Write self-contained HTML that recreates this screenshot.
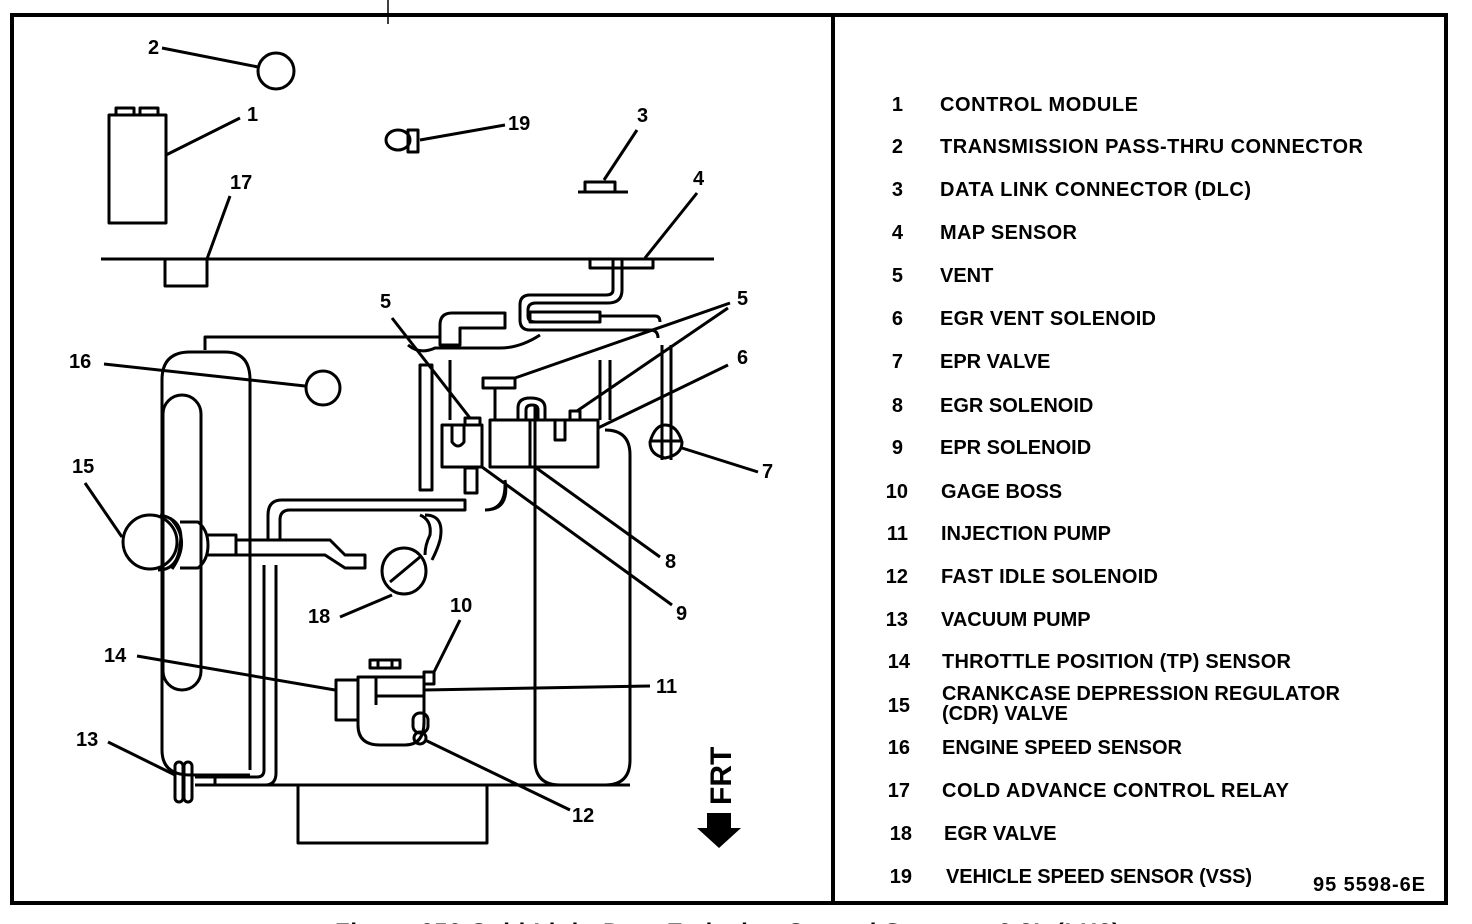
<!DOCTYPE html>
<html><head><meta charset="utf-8"><style>
html,body{margin:0;padding:0;background:#fff;overflow:hidden;}
svg{display:block;}
.t{font-family:"Liberation Sans",sans-serif;font-weight:bold;font-size:20px;fill:#000;}
.n{font-family:"Liberation Sans",sans-serif;font-weight:bold;font-size:20px;fill:#000;}
</style></head><body>
<svg width="1472" height="924" viewBox="0 0 1472 924" xmlns="http://www.w3.org/2000/svg">
<g fill="none" stroke="#000" stroke-width="3">
<rect x="12" y="15" width="1434" height="888" stroke-width="4"/>
<line x1="833" y1="15" x2="833" y2="903" stroke-width="4"/>
<line x1="388" y1="0" x2="388" y2="24" stroke-width="1.5"/>
</g>
<g fill="none" stroke="#000" stroke-width="3" stroke-linejoin="round">
<circle cx="276" cy="71" r="18"/>
<line x1="162" y1="48" x2="258" y2="67"/>
<rect x="109" y="115" width="57" height="108"/>
<rect x="116" y="108" width="18" height="7"/>
<rect x="140" y="108" width="18" height="7"/>
<line x1="166" y1="155" x2="240" y2="118"/>
<ellipse cx="398" cy="140" rx="12" ry="10"/>
<rect x="408" y="130" width="10" height="22"/>
<line x1="420" y1="140" x2="505" y2="125"/>
<rect x="585" y="182" width="30" height="10"/>
<line x1="578" y1="192" x2="628" y2="192"/>
<line x1="604" y1="180" x2="637" y2="130"/>
<line x1="101" y1="259" x2="714" y2="259"/>
<rect x="165" y="259" width="42" height="27"/>
<line x1="207" y1="259" x2="230" y2="196"/>
<rect x="590" y="259" width="63" height="9"/>
<line x1="645" y1="258" x2="697" y2="193"/>
<path d="M613 259 V290 Q613 295 606 295 H530 Q520 295 520 305 V320 Q520 330 530 330 H650 Q658 330 658 338"/>
<path d="M622 259 V290 Q622 303 608 303 H536 Q528 303 528 310 V316 Q528 322 536 322"/>
<rect x="530" y="312" width="70" height="10"/>
<path d="M600 316 H655 Q660 316 660 322"/>
<path d="M205 350 V337 H440"/>
<path d="M162 380 Q162 352 190 352 H225 Q250 352 250 380 V770"/>
<path d="M162 380 V750 Q162 775 190 775 H250"/>
<rect x="163" y="395" width="38" height="295" rx="19"/>
<path d="M215 775 V785 H630"/>
<path d="M535 450 V760 Q535 785 560 785 H605 Q630 785 630 760 V455 Q630 430 605 430"/>
<rect x="298" y="785" width="189" height="58"/>
<path d="M440 345 V325 Q440 313 452 313 H505 V328 H460 V345 Z"/>
<path d="M408 345 Q420 355 435 348 H500 Q520 348 540 335"/>
<path d="M420 365 V490 H432 V365 Z"/>
<path d="M450 360 V420"/>
<rect x="442" y="425" width="40" height="42"/>
<path d="M452 425 V442 Q458 450 464 442 V425"/>
<rect x="465" y="418" width="15" height="7"/>
<rect x="490" y="420" width="40" height="47"/>
<rect x="530" y="420" width="68" height="47"/>
<path d="M555 420 V440 H565 V420"/>
<rect x="570" y="411" width="10" height="9"/>
<rect x="483" y="378" width="32" height="10"/>
<line x1="495" y1="388" x2="495" y2="420"/>
<path d="M518 420 V408 Q518 398 530 398 Q545 398 545 408 V420"/>
<path d="M526 420 V410 Q526 405 532 405 Q538 405 538 410 V420"/>
<line x1="535" y1="405" x2="535" y2="467"/>
<line x1="600" y1="360" x2="600" y2="420"/>
<line x1="610" y1="360" x2="610" y2="420"/>
<rect x="465" y="468" width="12" height="25"/>
<path d="M465 500 H282 Q268 500 268 515 V540 H280 V520 Q280 510 290 510 H465 Z"/>
<path d="M485 510 Q505 510 505 485 M505 480 Q510 510 485 510"/>
<path d="M420 515 Q432 520 430 535 Q425 545 425 555 M425 515 Q445 515 440 540 Q438 548 432 560"/>
<ellipse cx="404" cy="571" rx="22" ry="23"/>
<line x1="390" y1="582" x2="420" y2="557"/>
<line x1="340" y1="617" x2="392" y2="595"/>
<circle cx="150" cy="542" r="27"/>
<path d="M160 515 Q185 520 180 545 Q178 570 158 570"/>
<path d="M170 518 Q192 540 172 569"/>
<path d="M180 522 H198 Q208 530 208 545 Q208 560 198 568 H180"/>
<path d="M208 535 H236 V555 H208"/>
<path d="M236 540 H330 L345 555 H365 V568 H345 L325 555 H236"/>
<path d="M85 483 L122 537"/>
<path d="M264 565 V770 Q264 777 257 777 H195 M276 565 V773 Q276 785 265 785 H195"/>
<rect x="175" y="762" width="8" height="40" rx="4"/>
<rect x="184" y="762" width="8" height="40" rx="4"/>
<line x1="108" y1="742" x2="175" y2="775"/>
<circle cx="323" cy="388" r="17"/>
<line x1="104" y1="364" x2="305" y2="386"/>
<rect x="336" y="680" width="22" height="40"/>
<path d="M358 677 H424 V722 Q424 745 405 745 H380 Q358 745 358 725 Z"/>
<line x1="376" y1="677" x2="376" y2="705"/>
<line x1="376" y1="696" x2="424" y2="696"/>
<rect x="370" y="660" width="30" height="8"/>
<path d="M378 660 V668 M392 660 V668"/>
<rect x="424" y="672" width="10" height="12"/>
<rect x="413" y="713" width="15" height="20" rx="7"/>
<circle cx="420" cy="738" r="6"/>
<line x1="137" y1="656" x2="335" y2="690"/>
<line x1="434" y1="672" x2="460" y2="620"/>
<line x1="424" y1="690" x2="650" y2="686"/>
<line x1="425" y1="740" x2="570" y2="810"/>
<path d="M650 442 Q655 425 665 425 Q677 425 682 442 Q682 455 665 458 Q650 455 650 442 Z"/>
<line x1="651" y1="441" x2="681" y2="441"/>
<line x1="662" y1="345" x2="662" y2="460"/>
<line x1="671" y1="345" x2="671" y2="460"/>
<line x1="682" y1="448" x2="758" y2="472"/>
<line x1="392" y1="318" x2="470" y2="418"/>
<line x1="515" y1="378" x2="730" y2="303"/>
<line x1="577" y1="411" x2="728" y2="308"/>
<line x1="598" y1="428" x2="728" y2="365"/>
<line x1="535" y1="467" x2="660" y2="557"/>
<line x1="482" y1="467" x2="672" y2="605"/>
</g>
<text x="0" y="0" transform="translate(731,805) rotate(-90)" style="font-family:'Liberation Sans',sans-serif;font-weight:bold;font-size:30px">FRT</text>
<polygon points="707,813 731,813 731,828 741,828 719,848 697,828 707,828" fill="#000"/>
<g class="n">
<text x="148" y="54">2</text><text x="247" y="121">1</text><text x="508" y="130">19</text>
<text x="637" y="122">3</text><text x="230" y="189">17</text><text x="693" y="185">4</text>
<text x="380" y="308">5</text><text x="737" y="305">5</text><text x="737" y="364">6</text>
<text x="69" y="368">16</text><text x="72" y="473">15</text><text x="762" y="478">7</text>
<text x="665" y="568">8</text><text x="676" y="620">9</text><text x="308" y="623">18</text>
<text x="450" y="612">10</text><text x="104" y="662">14</text><text x="656" y="693">11</text>
<text x="76" y="746">13</text><text x="572" y="822">12</text>
</g>
<g class="t">
<text x="903" y="111" text-anchor="end">1</text><text x="940" y="111" textLength="198">CONTROL MODULE</text>
<text x="903" y="153" text-anchor="end">2</text><text x="940" y="153" textLength="423">TRANSMISSION PASS-THRU CONNECTOR</text>
<text x="903" y="196" text-anchor="end">3</text><text x="940" y="196" textLength="311">DATA LINK CONNECTOR (DLC)</text>
<text x="903" y="239" text-anchor="end">4</text><text x="940" y="239" textLength="137">MAP SENSOR</text>
<text x="903" y="282" text-anchor="end">5</text><text x="940" y="282">VENT</text>
<text x="903" y="325" text-anchor="end">6</text><text x="940" y="325" textLength="216">EGR VENT SOLENOID</text>
<text x="903" y="368" text-anchor="end">7</text><text x="940" y="368">EPR VALVE</text>
<text x="903" y="412" text-anchor="end">8</text><text x="940" y="412">EGR SOLENOID</text>
<text x="903" y="454" text-anchor="end">9</text><text x="940" y="454">EPR SOLENOID</text>
<text x="908" y="498" text-anchor="end">10</text><text x="941" y="498">GAGE BOSS</text>
<text x="908" y="540" text-anchor="end">11</text><text x="941" y="540">INJECTION PUMP</text>
<text x="908" y="583" text-anchor="end">12</text><text x="941" y="583" textLength="217">FAST IDLE SOLENOID</text>
<text x="908" y="626" text-anchor="end">13</text><text x="941" y="626">VACUUM PUMP</text>
<text x="910" y="668" text-anchor="end">14</text><text x="942" y="668" textLength="349">THROTTLE POSITION (TP) SENSOR</text>
<text x="910" y="712" text-anchor="end">15</text><text x="942" y="700" textLength="398">CRANKCASE DEPRESSION REGULATOR</text><text x="942" y="720">(CDR) VALVE</text>
<text x="910" y="754" text-anchor="end">16</text><text x="942" y="754" textLength="240">ENGINE SPEED SENSOR</text>
<text x="910" y="797" text-anchor="end">17</text><text x="942" y="797" textLength="347">COLD ADVANCE CONTROL RELAY</text>
<text x="912" y="840" text-anchor="end">18</text><text x="944" y="840">EGR VALVE</text>
<text x="912" y="883" text-anchor="end">19</text><text x="946" y="883" textLength="306">VEHICLE SPEED SENSOR (VSS)</text>
<text x="1313" y="891" textLength="112">95 5598-6E</text>
<text x="335" y="940" textLength="785" style="font-size:24px">Figure 650 Cold Light Duty Emission Control System - 6.2L (LH6)</text>
</g>
</svg>
</body></html>
